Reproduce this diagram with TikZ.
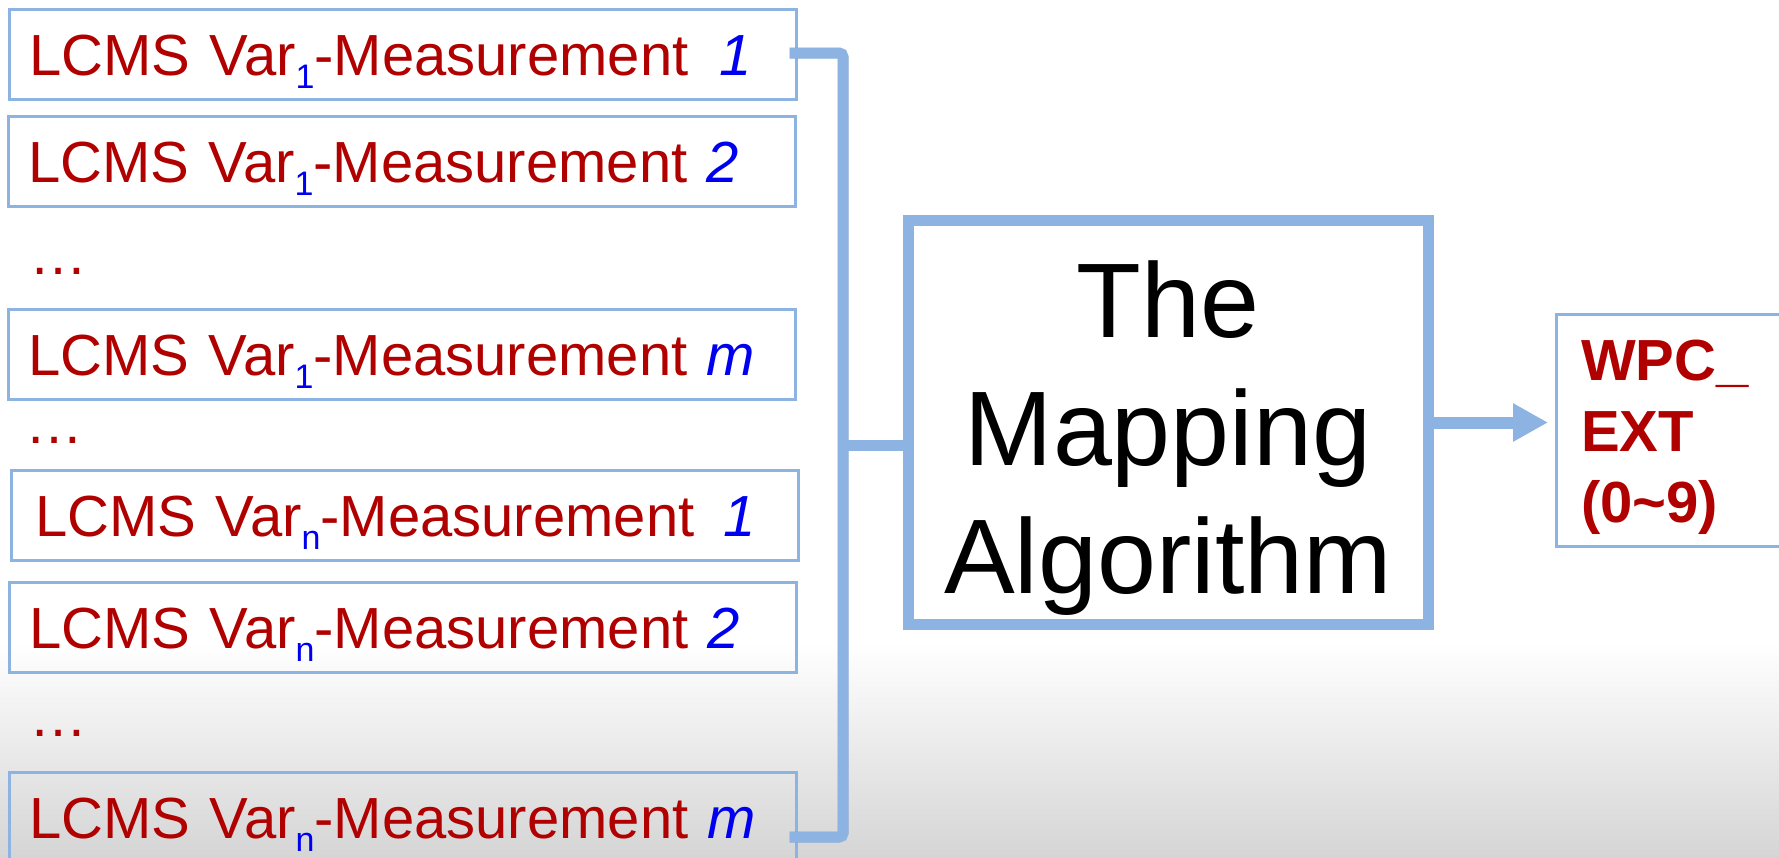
\documentclass[tikz,border=0pt]{standalone}
\usepackage{fontspec}
\setmainfont{Liberation Sans}
\usetikzlibrary{arrows.meta,calc}
\definecolor{dred}{RGB}{176,0,0}
\definecolor{nblue}{RGB}{0,0,240}
\definecolor{lblue}{RGB}{141,179,226}
\definecolor{bgray}{RGB}{213,213,213}
\newcommand{\subn}[1]{\raisebox{-13pt}{\fontsize{34}{34}\selectfont\color{nblue}#1}}
\newcommand{\meas}[2]{\color{dred}LCMS Var\subn{#1}-Measurement \textit{\color{nblue}#2}}
\begin{document}
\begin{tikzpicture}[x=1pt,y=-1pt,
  mbox/.style={draw=lblue, line width=2.5pt, anchor=north west, inner xsep=20pt, inner ysep=0pt,
    text height=66pt, text depth=24pt, text width=747pt, align=left,
    font=\fontsize{58}{70}\selectfont, text=dred},
  dotsn/.style={anchor=base west, inner sep=0pt, text=dred, font=\fontsize{58}{70}\selectfont},
  conn/.style={draw=lblue, line width=11pt, rounded corners=4pt},
  shad/.style={draw=black, opacity=0.13, line width=11pt, rounded corners=4pt, xshift=2pt, yshift=-3pt}]
\useasboundingbox (0,0) rectangle (1779,857);
\clip (0,0) rectangle (1779,857);
\fill[white] (0,0) rectangle (1779,643);
\shade[top color=white,bottom color=bgray] (0,643) rectangle (1779,857);

% measurement boxes
\node[mbox] (m1) at (8,8) {\meas{1}{\hspace{12pt}1}};
\node[mbox] (m2) at (7,115) {\meas{1}{2}};
\node[mbox] (m3) at (7,308) {\meas{1}{m}};
\node[mbox, inner xsep=24pt, text width=739pt] (m4) at (10,469) {\meas{n}{\hspace{10pt}1}};
\node[mbox] (m5) at (8,581) {\meas{n}{2}};
\node[mbox] (m6) at (8,771) {\meas{n}{m}};

% ellipses
\node[dotsn] (d1) at (29,274) {…};
\node[dotsn] (d2) at (25,443) {…};
\node[dotsn] (d3) at (29,736) {…};

% algorithm box
\node[draw=lblue, line width=11pt, minimum width=520pt, minimum height=404pt, fill=white, inner sep=0pt] (alg) at (1168.5,422.5) {};
\node[anchor=base, inner sep=0pt, font=\fontsize{106}{128}\selectfont] (algt) at (1168,337)
  {\begin{tabular}[t]{@{}c@{}}The\\Mapping\\Algorithm\end{tabular}};

% output box
\node[draw=lblue, line width=2.5pt, anchor=north west, minimum width=300pt, minimum height=232pt, inner sep=0pt, fill=white] (out) at (1555,313) {};
\node[anchor=base west, inner sep=0pt, font=\bfseries\fontsize{58}{71}\selectfont, text=dred] (outt) at (1581,380)
  {\begin{tabular}[t]{@{}l@{}}WPC\_\\EXT\\(0\textasciitilde9)\end{tabular}};

% bus connectors
\coordinate (bt) at (843,53);
\coordinate (bb) at (843,837);
\coordinate (bm) at (843,445);
\draw[shad] ([xshift=-8pt]m1.east |- bt) -- (bt) -- (bb) -- ($(m6.east |- bb)+(-8,0)$);
\draw[shad] (bm) -- (bm -| alg.west);
\draw[conn] ([xshift=-8pt]m1.east |- bt) -- (bt) -- (bb) -- ($(m6.east |- bb)+(-8,0)$);
\draw[conn] (bm) -- (bm -| alg.west);

% output arrow
\draw[draw=black, opacity=0.13, line width=12pt, xshift=2pt, yshift=-3pt] (alg.east) -- ($(alg.east -| out.west)+(-40,0)$);
\draw[draw=lblue, line width=12pt, -{Triangle[width=36pt,length=35pt]}] (alg.east) -- ($(alg.east -| out.west)+(-7,0)$);
\end{tikzpicture}
\end{document}
